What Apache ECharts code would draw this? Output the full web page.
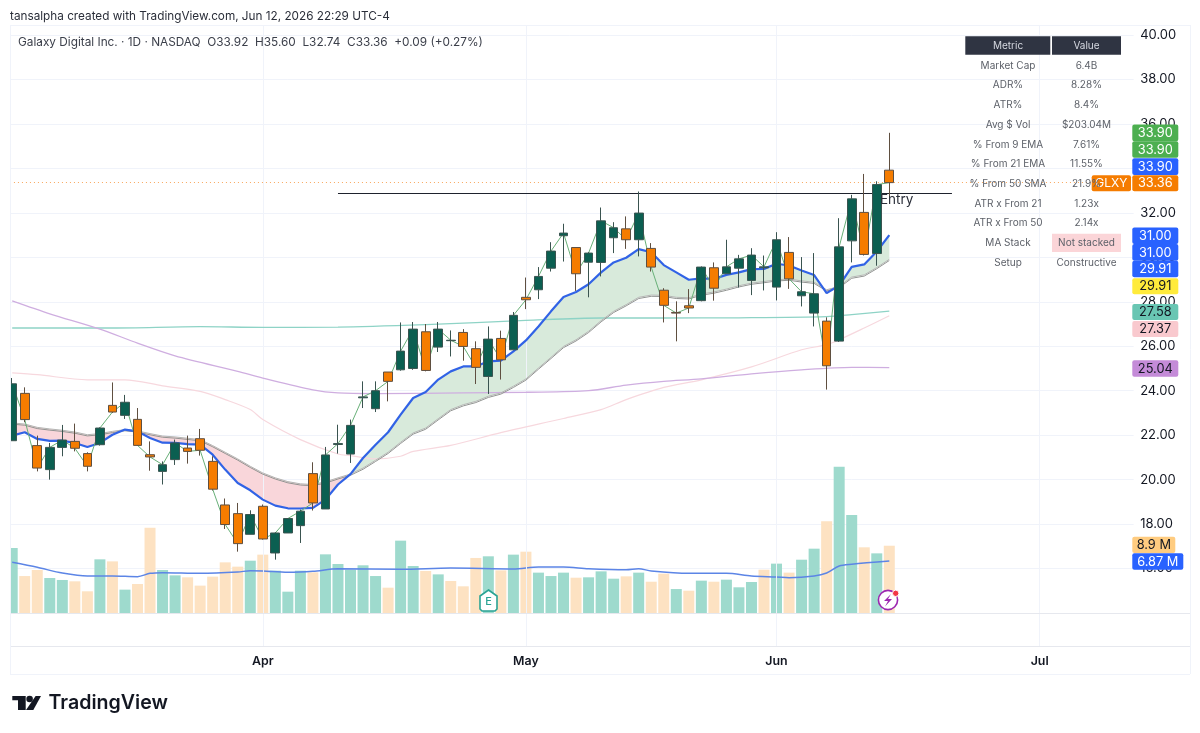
<!DOCTYPE html>
<html><head><meta charset="utf-8"><title>GLXY</title>
<style>html,body{margin:0;padding:0;background:#fff}#c{width:1200px;height:733px}</style>
<script src="https://cdn.jsdelivr.net/npm/echarts@6/dist/echarts.min.js"></script>
</head><body><div id="c"></div>
<script>
const categories = ['03-04','03-05','03-06','03-09','03-10','03-11','03-12','03-13','03-16','03-17','03-18','03-19','03-20','03-23','03-24','03-25','03-26','03-27','03-30','03-31',
'04-01','04-02','04-06','04-07','04-08','04-09','04-10','04-13','04-14','04-15','04-16','04-17','04-20','04-21','04-22','04-23','04-24','04-27','04-28','04-29','04-30',
'05-01','05-04','05-05','05-06','05-07','05-08','05-11','05-12','05-13','05-14','05-15','05-18','05-19','05-20','05-21','05-22','05-26','05-27','05-28','05-29',
'06-01','06-02','06-03','06-04','06-05','06-08','06-09','06-10','06-11','06-12','06-15','06-16','06-17','06-18','06-22','06-23','06-24','06-25','06-26','06-29','06-30',
'07-01','07-02','07-06','07-07','07-08','07-09','07-10','07-13'];
const monthTicks = {'04-01':'Apr','05-01':'May','06-01':'Jun','07-01':'Jul'};
// open, close, low, high
const candles = [
[21.75,24.31,21.75,24.57],[23.88,22.70,22.58,24.15],[21.53,20.52,20.37,21.98],[20.45,21.45,20.00,21.65],[21.45,21.78,21.05,22.46],
[21.72,21.41,21.27,22.52],[21.17,20.60,20.37,21.23],[21.57,22.32,21.53,22.35],[23.34,23.04,23.00,24.37],[22.89,23.48,22.73,23.81],
[22.71,21.54,21.53,23.22],[21.12,21.02,20.40,21.72],[20.37,20.67,19.78,20.82],[20.90,21.65,20.66,21.80],[21.42,21.27,20.72,21.98],
[21.84,21.32,21.08,22.28],[20.82,19.57,19.51,21.05],[18.86,17.98,17.78,19.15],[18.47,17.12,16.76,18.95],[17.54,18.43,17.54,18.62],
[18.80,17.33,17.30,18.88],[16.70,17.60,16.40,17.63],[17.60,18.25,17.60,18.26],[17.93,18.58,17.15,18.65],[20.27,18.95,18.61,20.78],
[18.68,21.11,18.68,21.47],[21.58,21.62,21.17,22.47],[21.15,22.44,20.75,22.70],[23.68,23.72,23.22,24.42],[23.19,24.00,23.04,24.42],
[24.84,24.42,23.52,24.84],[24.94,25.78,24.90,27.07],[25.00,26.77,24.94,27.09],[26.65,24.91,24.87,27.00],[25.96,26.77,25.74,27.09],
[26.25,26.27,25.54,26.71],[26.62,25.99,25.35,26.77],[25.89,25.05,24.30,26.22],[24.64,26.32,23.85,26.89],[26.35,25.39,24.50,26.70],
[25.84,27.39,25.84,27.54],[28.20,28.09,27.67,29.09],[28.54,29.14,28.12,29.56],[29.51,30.28,29.36,30.68],[30.97,31.09,29.81,31.51],
[30.44,29.26,28.49,30.44],[29.78,30.19,28.20,30.23],[29.77,31.64,29.14,32.24],[30.88,31.33,30.19,31.58],[31.28,30.79,30.38,31.84],
[30.79,31.99,30.04,32.96],[30.40,29.56,29.36,30.64],[28.52,27.84,27.07,28.61],[27.52,27.49,26.22,28.02],[27.82,27.72,27.49,28.57],
[28.05,29.56,28.02,29.59],[29.53,28.61,28.05,29.77],[29.26,29.57,29.26,30.79],[29.51,29.93,28.64,30.11],[28.96,30.10,28.30,30.41],
[29.53,29.57,28.51,30.08],[28.66,30.79,28.06,31.13],[30.22,29.03,28.58,30.91],[28.27,28.45,27.79,30.01],[27.49,28.36,26.89,30.19],
[27.13,25.12,24.05,27.30],[26.23,30.47,26.19,31.76],[30.74,32.63,29.77,32.81],[32.02,30.13,30.08,33.75],[30.17,33.27,29.62,33.42],
[33.92,33.36,32.74,35.60]];
const ema9 = [21.98,22.13,21.83,21.74,21.75,21.65,21.47,21.65,22.02,22.25,22.17,21.87,21.66,21.65,21.60,21.57,21.12,20.45,19.85,19.52,19.10,18.83,18.71,18.70,18.73,19.10,19.78,20.25,20.97,21.57,22.13,22.92,23.67,23.94,24.50,24.87,25.09,25.09,25.32,25.35,25.77,26.26,26.89,27.57,28.21,28.44,28.79,29.32,29.77,29.98,30.37,30.23,29.65,29.32,28.99,29.05,29.03,29.21,29.32,29.47,29.48,29.71,29.63,29.41,29.20,28.39,28.73,29.57,29.68,30.26,31.00];
const ema21 = [22.55,22.50,22.35,22.28,22.22,22.14,22.02,22.07,22.17,22.25,22.19,22.07,21.96,21.92,21.86,21.80,21.53,21.23,20.93,20.60,20.30,20.08,19.91,19.81,19.78,19.90,20.08,20.25,20.52,20.87,21.23,21.68,22.10,22.32,22.74,23.15,23.37,23.52,23.75,23.90,24.20,24.53,25.02,25.50,25.99,26.29,26.67,27.15,27.57,27.87,28.20,28.30,28.29,28.20,28.18,28.35,28.44,28.57,28.72,28.84,28.91,28.99,29.02,28.94,28.88,28.54,28.69,29.11,29.21,29.54,29.91];
// slow averages read at a few bars: [bar index, value]
const sma50 = [[0,26.82],[8,26.82],[15,26.88],[20,26.85],[26,26.86],[33,26.97],[41,27.16],[47,27.27],[52,27.27],[58,27.28],[65,27.33],[67,27.42],[70,27.58]];
const sma100 = [[0,24.80],[2,24.72],[6,24.49],[9,24.49],[12,24.22],[15,23.97],[17,23.60],[19,23.15],[20,22.70],[23,21.80],[26,21.15],[27,21.08],[29,20.93],[31,21.05],[32,21.27],[35,21.54],[39,22.11],[44,22.75],[47,23.15],[49,23.60],[52,24.15],[55,24.49],[59,25.07],[63,25.84],[65,26.07],[66,26.29],[68,26.82],[70,27.37]];
const sma200 = [[0,28.04],[3,27.46],[7,26.77],[10,26.14],[13,25.57],[18,24.87],[20,24.57],[24,24.04],[26,23.90],[29,23.87],[36,23.90],[41,23.93],[46,24.00],[49,24.25],[52,24.42],[55,24.53],[59,24.76],[63,24.94],[67,25.05],[70,25.04]];
const volumes = [8.60,4.89,5.69,4.63,4.37,4.19,2.87,7.10,6.83,3.09,3.84,11.29,5.69,4.98,4.72,3.62,4.81,6.70,6.13,6.92,7.72,5.60,2.82,5.60,5.38,7.76,6.48,5.73,6.31,4.89,3.35,9.57,6.22,5.56,5.11,4.23,3.53,7.28,7.50,5.64,7.72,8.11,5.34,4.89,5.34,4.67,4.72,5.51,4.54,4.85,5.34,4.14,5.20,3.17,2.95,4.28,4.14,4.41,3.40,4.10,5.73,6.53,5.34,7.05,8.51,12.13,19.36,12.96,8.69,7.89,8.90];
const volumeDownBars = [1,2,5,6,8,10,11,14,15,16,17,18,20,24,30,33,35,36,37,39,41,45,49,51,52,54,56,60,62,65,68,70];
const volumeMA = [[0,6.70],[2,6.04],[4,5.29],[6,4.89],[8,4.89],[10,4.81],[11,5.25],[12,5.34],[15,5.25],[18,5.42],[19,5.60],[20,5.56],[22,5.38],[24,5.51],[26,5.84],[31,5.78],[35,5.95],[40,5.82],[42,6.08],[44,6.08],[46,5.86],[49,5.73],[50,5.86],[51,5.56],[54,5.25],[57,5.25],[59,4.89],[61,4.76],[62,4.67],[64,4.89],[65,5.29],[66,6.22],[67,6.45],[70,6.87]];
const entryPrice = 32.9, entryFromBar = 26, entryToBar = 75, lastPrice = 33.36;
const metricNames = ['Market Cap','ADR%','ATR%','Avg $ Vol','% From 9 EMA','% From 21 EMA','% From 50 SMA','ATR x From 21','ATR x From 50','MA Stack','Setup'];
const metricValues = ['6.4B','8.28%','8.4%','$203.04M','7.61%','11.55%','21.9%','1.23x','2.14x','Not stacked','Constructive'];
const priceTags = ['33.90','33.90','33.90','33.36','31.00','31.00','29.91','29.91','27.58','27.37','25.04','8.9 M','6.87 M'];
const headerLine = 'tansalpha created with TradingView.com, Jun 12, 2026 22:29 UTC-4';
const titleLine = 'Galaxy Digital Inc. · 1D · NASDAQ  O33.92  H35.60  L32.74  C33.36  +0.09 (+0.27%)';

// ---- layout & style ----
const FONT = 'Inter, "Noto Sans", sans-serif';
const GL = 5.93, GW = 1127.7;
const tagStyle = [
 {y:124.6,h:16.6,f:'#4caf50',t:'#fff'},{y:141.2,h:16.6,f:'#4caf50',t:'#fff'},{y:158.3,h:16.6,f:'#2962ff',t:'#fff'},
 {y:175.2,h:16,f:'#f57c00',t:'#fff'},{y:227.5,h:16.6,f:'#2962ff',t:'#fff'},{y:244.1,h:16.6,f:'#2962ff',t:'#fff'},
 {y:260.7,h:16.6,f:'#2962ff',t:'#fff'},{y:278.2,h:16,f:'#ffeb3b',t:'#131722'},{y:303.9,h:16,f:'#69c6b3',t:'#131722'},
 {y:320.9,h:16,f:'#f9c9ce',t:'#131722'},{y:360.3,h:16.4,f:'#c48bd8',t:'#131722'},
 {y:536.7,h:16.4,f:'#ffcc80',t:'#131722',w:43},{y:553.2,h:16.6,f:'#2962ff',t:'#fff',w:51}];

const g = [];
const txt = (x,y,s,o={}) => g.push({type:'text',x,y,z:o.z||120,silent:true,style:{text:s,font:`${o.w||400} ${o.size||13}px ${FONT}`,fill:o.c||'#131722',textAlign:o.a||'left',textVerticalAlign:'middle'}});
const rect = (x,y,w,h,fill,z=110,r=0,stroke) => g.push({type:'rect',z,silent:true,shape:{x,y,width:w,height:h,r},style:{fill,stroke}});
const hline = (x1,x2,y,c) => g.push({type:'line',z:60,silent:true,shape:{x1,y1:y,x2,y2:y},style:{stroke:c,lineWidth:1}});
const vline = (x,y1,y2,c) => g.push({type:'line',z:60,silent:true,shape:{x1:x,y1,x2:x,y2},style:{stroke:c,lineWidth:1}});
rect(0,0,10,700,'#fff',50);
hline(10,1190,25.5,'#f0f3fa');hline(10,1190,613.5,'#e6e8ee');hline(10,1190,646.5,'#e6e8ee');hline(10,1190,674.5,'#f0f3fa');
vline(10.5,25,674,'#f0f3fa');vline(1190.5,25,674,'#f0f3fa');
txt(10,16,headerLine,{size:11.75,c:'#2a2e39'});
txt(18,42,titleLine,{size:11.8,c:'#3b3f4a'});
// table
rect(965.3,36.3,85,18.4,'#2f3442');rect(1052,36.3,69,18.4,'#2f3442');
txt(1008,46,'Metric',{size:10,c:'#d5d8e0',a:'center'});txt(1086.5,46,'Value',{size:10,c:'#d5d8e0',a:'center'});
rect(1052,233.7,69,18.3,'#fbd5d8');
metricNames.forEach((m,i)=>{const y=65.7+i*19.7;txt(1008,y,m,{size:10,c:'#5d6169',a:'center'});txt(1086.5,y,metricValues[i],{size:10,c:'#5d6169',a:'center'});});
// price tags
rect(1091.7,175.2,39.3,16,'#f57c00',112,2);txt(1111.4,183.4,'GLXY',{size:12,c:'#fff',a:'center',z:113});
priceTags.forEach((s,i)=>{const l=tagStyle[i],w=l.w||46;rect(1132.3,l.y,w,l.h,l.f,112,2);txt(1132.3+(l.w?w/2:23),l.y+l.h/2+.4,s,{size:12.8,c:l.t,a:'center',z:113});});
// entry
txt(880,199.5,'Entry',{size:13.5,c:'#2a2e39',z:90});
// earnings / event marks
g.push({type:'polygon',z:95,silent:true,shape:{points:[[488.5,590],[497,596],[497,609],[495,611],[482,611],[480,609],[480,596]]},style:{fill:'#fff',stroke:'#2aa394',lineWidth:1.6}});
txt(488.5,601.5,'E',{size:11,w:500,c:'#2aa394',a:'center',z:96});
g.push({type:'circle',z:95,silent:true,shape:{cx:888,cy:600,r:9.6},style:{fill:'#fff',stroke:'#9c27b0',lineWidth:1.6}});
g.push({type:'polygon',z:96,silent:true,shape:{points:[[891,594],[884,601],[888,601],[885,606.5],[892,599],[888,599]]},style:{fill:'#9c27b0'}});
g.push({type:'circle',z:97,silent:true,shape:{cx:895.7,cy:593.3,r:3.2},style:{fill:'#f23645',stroke:'#fff',lineWidth:1}});
// logo
g.push({type:'polygon',z:95,silent:true,shape:{points:[[12.3,696],[25.7,696],[25.7,710],[18,710],[18,700.3],[12.3,700.3]]},style:{fill:'#131722'}});
g.push({type:'circle',z:95,silent:true,shape:{cx:29.6,cy:699,r:3.3},style:{fill:'#131722'}});
g.push({type:'polygon',z:95,silent:true,shape:{points:[[35.6,696],[41,696],[33.3,710],[26,710]]},style:{fill:'#131722'}});
txt(48.5,703.5,'TradingView',{size:19.6,w:600,c:'#131722'});

const downSet = new Set(volumeDownBars);
const renderBand = (params, api) => {
  const a = ema9.map((v,i)=>api.coord([i,v])), b = ema21.map((v,i)=>api.coord([i,v]));
  const runs = []; let d0 = ema9[0]-ema21[0];
  let cur = {s:d0>=0?1:-1,up:[a[0]],dn:[b[0]]};
  for (let i=1;i<a.length;i++){
    const d = ema9[i]-ema21[i], s = d>0?1:d<0?-1:cur.s;
    if (s!==cur.s){
      const t = d0/(d0-d), X=[a[i-1][0]+(a[i][0]-a[i-1][0])*t, a[i-1][1]+(a[i][1]-a[i-1][1])*t];
      cur.up.push(X); runs.push(cur); cur={s,up:[X],dn:[]};
    }
    cur.up.push(a[i]); cur.dn.push(b[i]); d0=d;
  }
  runs.push(cur);
  return {type:'group',children:runs.map(r=>({type:'polygon',shape:{points:r.up.concat(r.dn.slice().reverse())},style:{fill:r.s>0?'#d8eadb':'#f9d6da'}}))};
};
const lineS = (name,data,color,width,z,extra={}) => Object.assign({name,type:'line',data,showSymbol:false,symbol:'none',xAxisIndex:0,yAxisIndex:0,z,silent:true,connectNulls:true,lineStyle:{color,width}},extra);

const option = {
  animation:false, backgroundColor:'#fff',
  textStyle:{fontFamily:FONT},
  grid:[{left:GL,width:GW,top:35,height:578},{left:GL,width:GW,top:25,height:621.7}],
  xAxis:[
    {type:'category',gridIndex:0,data:categories,show:false},
    {type:'category',gridIndex:1,data:categories,axisLine:{show:false},axisTick:{show:false},splitLine:{show:false},
     axisLabel:{interval:(i,v)=>!!monthTicks[v],formatter:v=>monthTicks[v]||'',margin:9,fontSize:12.4,fontWeight:600,color:'#131722',fontFamily:FONT,hideOverlap:false}}
  ],
  yAxis:[
    {type:'value',gridIndex:0,position:'right',min:14,max:40,interval:2,axisLine:{show:false},axisTick:{show:false},
     splitLine:{show:true,lineStyle:{color:'#f0f3fa',width:1}},
     axisLabel:{inside:false,margin:6.5,fontSize:13,color:'#131722',fontFamily:FONT,padding:[2,0,0,0],formatter:v=>v===14?'':v.toFixed(2)}},
    {type:'value',gridIndex:0,min:0,max:76.46,show:false,splitLine:{show:false}},
    {type:'value',gridIndex:1,min:0,max:1,show:false,splitLine:{show:false}}
  ],
  series:[
    {type:'line',xAxisIndex:1,yAxisIndex:2,data:[],z:1,silent:true,
     markLine:{silent:true,symbol:'none',label:{show:false},lineStyle:{color:'#f0f3fa',width:1,type:'solid'},animation:false,
       data:Object.keys(monthTicks).map(k=>({xAxis:categories.indexOf(k)}))}},
    {name:'Volume',type:'bar',xAxisIndex:0,yAxisIndex:1,barWidth:11,z:2,silent:true,
     data:volumes.map((v,i)=>({value:v,itemStyle:{color:downSet.has(i)?'#fde2c2':'#9edacd'}}))},
    lineS('Vol MA',volumeMA,'#5c85e6',1.5,3,{yAxisIndex:1,smooth:0.3}),
    {name:'Band',type:'custom',xAxisIndex:0,yAxisIndex:0,data:[[0,22]],renderItem:renderBand,z:4,silent:true,clip:true},
    lineS('SMA50',sma50,'#8ed3c6',1.3,5,{smooth:0.3}),
    lineS('SMA100',sma100,'#f7d8de',1.2,5,{smooth:0.3}),
    lineS('SMA200',sma200,'#cfaee0',1.3,5,{smooth:0.3}),
    lineS('EMA21',ema21,'#b4b6b4',1,6,{lineStyle:{color:'#b4b6b4',width:1,shadowColor:'#929592',shadowBlur:0,shadowOffsetY:1.2}}),
    lineS('EMA9',ema9,'#3163e6',2.2,7),
    lineS('Close',candles.map(c=>c[1]),'#68b078',1,8),
    {name:'GLXY',type:'candlestick',xAxisIndex:0,yAxisIndex:0,data:candles,barWidth:9.2,z:9,silent:true,
     itemStyle:{color:'#0b5f51',color0:'#f57c00',borderColor:'#3a5450',borderColor0:'#5f4f40',borderColorDoji:'#3a5450',borderWidth:1}},
    {type:'line',xAxisIndex:0,yAxisIndex:0,data:[],z:10,silent:true,
     markLine:{silent:true,symbol:'none',label:{show:false},animation:false,
       data:[
        [{coord:[entryFromBar,entryPrice],lineStyle:{color:'#1e222d',width:1.2,type:'solid'}},{coord:[entryToBar,entryPrice]}],
        {yAxis:lastPrice,lineStyle:{color:'#f9a75c',width:1,type:[1,3]}}
       ]}}
  ],
  graphic:{elements:g}
};
const chart = echarts.init(document.getElementById('c'),null,{renderer:'canvas',width:1200,height:733});
chart.setOption(option);
</script></body></html>
